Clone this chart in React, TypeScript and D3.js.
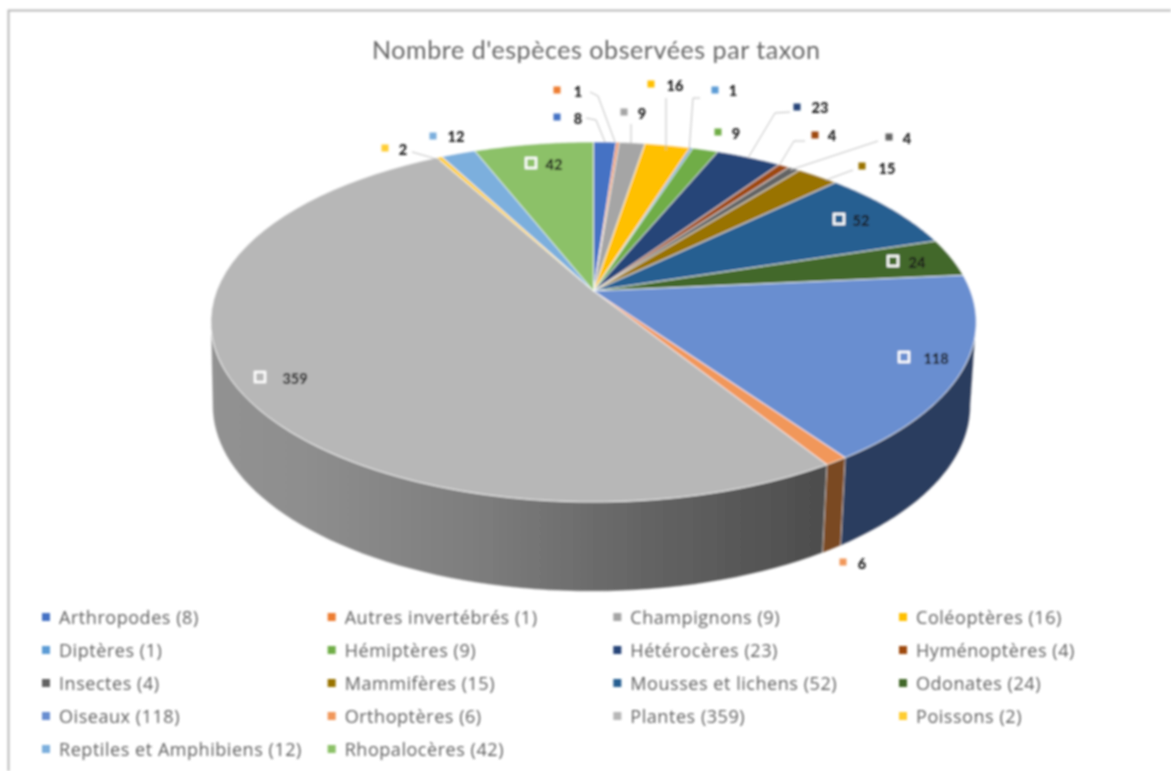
import React from "react";
import * as d3 from "d3";

const taxa = ["Arthropodes","Autres invertébrés","Champignons","Coléoptères","Diptères","Hémiptères","Hétérocères","Hyménoptères","Insectes","Mammifères","Mousses et lichens","Odonates","Oiseaux","Orthoptères","Plantes","Poissons","Reptiles et Amphibiens","Rhopalocères"];
const counts = [8,1,9,16,1,9,23,4,4,15,52,24,118,6,359,2,12,42];
const colors = ["#4472c4","#ed7d31","#a5a5a5","#ffc000","#5b9bd5","#70ad47","#264478","#9e480e","#636363","#997300","#255e91","#43682b","#698ed0","#f1975a","#b7b7b7","#ffcd33","#7cafdd","#8cc168"];
const sideColors: Record<number,string> = {12:"#2c3d5e",13:"#7a4a22",14:"url(#plantesSide)"};
const title = "Nombre d'espèces observées par taxon";

// label layout: marker x, marker y, text x, text y, boxed
const labelLayout: [number,number,number,number,boolean][] = [
  [557,117,578,118,false],[557,90,578,91,false],[624,112,642,113,false],[651,84,675,85,false],
  [715,90,733,90,false],[718,132,736,133,false],[797,107,820,107,false],[815,135,832,135,false],
  [889,137,907,138,false],[862,166,887,168,false],[839,219,861,220,true],[893,261,917,262,true],
  [904,357,936,358,true],[843,562,862,563,false],[260,377,295,378,true],[385,148,403,149,false],
  [433,136,456,136,false],[531,163,554,164,true],
];
const leaders: [number,number][][] = [
  [[586,118],[596,120],[605,142]],[[590,92],[598,96],[615,142]],[[631,124],[631,143]],[[666,98],[666,150]],
  [[700,98],[693,98],[689,152]],[[790,112],[775,113],[748,158]],[[805,141],[794,141],[780,164]],
  [[878,141],[790,170]],[[853,170],[826,180]],[[412,152],[440,160]],
];

const CX = 593.5, CY = 291, A = 377, B = 174.7, K = 0.172;
const top = (t: number): [number,number] => {
  const u = Math.sin(t), v = Math.cos(t), w = 1 + K * v;
  return [CX + A * u / w, CY - B * v / w];
};
const bottom = (t: number): [number,number] => {
  const u = Math.sin(t), v = Math.cos(t), w = 1 + K * v;
  return [CX - 2 + 0.99 * A * u / w, CY + 83 - 1.03 * B * v / w];
};
const rad = (d: number) => d * Math.PI / 180;
const TAN_R = rad(99.9), TAN_L = rad(260.1);
const sample = (a: number, b: number) => d3.range(0, 61).map(i => a + (b - a) * i / 60);

export default function App() {
  const arcs = d3.pie<number>().sort(null)(counts);
  const line = d3.line();
  const sides = arcs.map((a, i) => {
    const s = Math.max(a.startAngle, TAN_R), e = Math.min(a.endAngle, TAN_L);
    if (s >= e) return null;
    const ang = sample(s, e);
    const pts = [...ang.map(top), ...ang.slice().reverse().map(bottom)];
    return <path key={i} d={line(pts)! + "Z"} fill={sideColors[i] ?? colors[i]} stroke="#fff" strokeOpacity={0.5} strokeWidth={0.8} />;
  });
  const slices = arcs.map((a, i) => {
    const pts: [number,number][] = [[CX, CY], ...sample(a.startAngle, a.endAngle).map(top)];
    return <path key={i} d={line(pts)! + "Z"} fill={colors[i]} stroke="#fff" strokeOpacity={0.75} strokeWidth={0.9} strokeLinejoin="round" />;
  });
  const col = d3.scalePoint<number>().domain([0,1,2,3]).range([46,903]);
  const row = d3.scalePoint<number>().domain([0,1,2,3,4]).range([617,749]);
  return (
    <svg width={1171} height={771} style={{ position: "absolute", left: 0, top: 0, background: "#fff" }} fontFamily="Lato, sans-serif">
      <defs>
        <linearGradient id="plantesSide" gradientUnits="userSpaceOnUse" x1={210} y1={0} x2={830} y2={0}>
          <stop offset="0" stopColor="#929292" />
          <stop offset="0.15" stopColor="#8e8e8e" />
          <stop offset="0.42" stopColor="#7e7e7e" />
          <stop offset="0.7" stopColor="#646464" />
          <stop offset="1" stopColor="#4c4c4c" />
        </linearGradient>
        <filter id="soft" x="-2%" y="-2%" width="104%" height="104%"><feGaussianBlur stdDeviation="0.8" /></filter>
        <filter id="softer" x="-2%" y="-2%" width="104%" height="104%"><feGaussianBlur stdDeviation="1" /></filter>
      </defs>
      <g filter="url(#soft)">
        <path d="M8.5 771V10.5H1171" fill="none" stroke="#b9b9b9" strokeWidth={2} />
        <text x={596} y={59} textAnchor="middle" fontSize={25} fill="#666" textLength={448}>{title}</text>
        {sides}
        {slices}
        {leaders.map((l, i) => <path key={i} d={line(l)!} fill="none" stroke="#bfbfbf" strokeWidth={1} />)}
        {labelLayout.map(([mx, my, tx, ty, boxed], i) => (
          <g key={i}>
            {boxed && <rect x={mx - 5} y={my - 5} width={10} height={10} fill="none" stroke="#fff" strokeWidth={2.5} />}
            <rect x={mx - 3.5} y={my - 3.5} width={7} height={7} fill={boxed ? "none" : colors[i]} />
            <text x={tx} y={ty} textAnchor="middle" dominantBaseline="central" fontSize={14.5} fontWeight={900} fill="#1a1a1a">{counts[i]}</text>
          </g>
        ))}
      </g>
      <g filter="url(#softer)">
        {taxa.map((t, i) => {
          const x = col(i % 4)!, y = row(Math.floor(i / 4))!;
          return (
            <g key={t}>
              <rect x={x - 4} y={y - 4} width={8} height={8} fill={colors[i]} />
              <text x={x + 13} y={y} dominantBaseline="central" fontSize={18} letterSpacing={0.55} fontFamily="'Open Sans', sans-serif" fill="#606060">{`${t} (${counts[i]})`}</text>
            </g>
          );
        })}
      </g>
    </svg>
  );
}
